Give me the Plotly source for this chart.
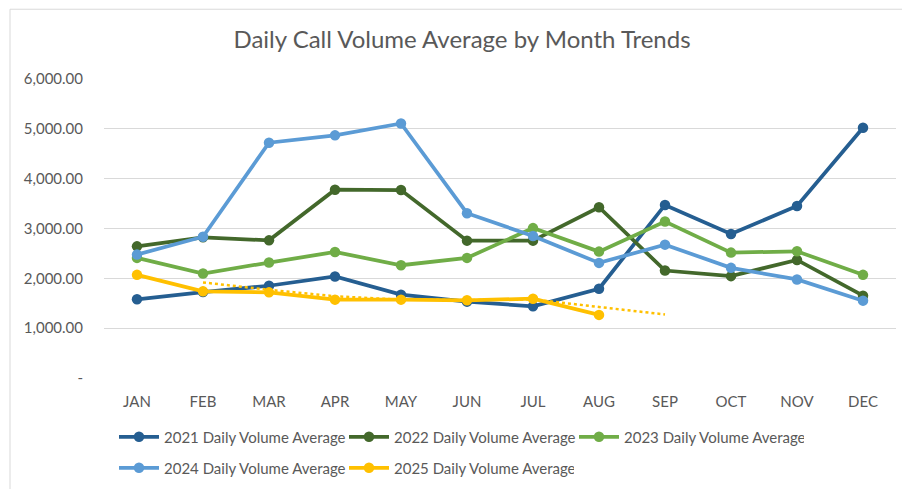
import plotly.graph_objects as go

months = ["JAN", "FEB", "MAR", "APR", "MAY", "JUN", "JUL", "AUG", "SEP", "OCT", "NOV", "DEC"]
y2021 = [1579, 1725, 1851, 2038, 1672, 1532, 1439, 1791, 3473, 2888, 3453, 5021]
y2022 = [2642, 2822, 2762, 3779, 3772, 2756, 2756, 3426, 2157, 2044, 2369, 1652]
y2023 = [2410, 2097, 2317, 2529, 2263, 2410, 3008, 2536, 3140, 2516, 2542, 2070]
y2024 = [2476, 2835, 4722, 4869, 5108, 3307, 2848, 2310, 2676, 2210, 1978, 1552]
y2025 = [2070, 1739, 1719, 1572, 1572, 1559, 1592, 1266]
trend_months = ["FEB", "MAR", "APR", "MAY", "JUN", "JUL", "AUG", "SEP"]
trend2025 = [1918, 1770, 1640, 1572, 1565, 1578, 1425, 1275]
ytick_vals = [0, 1000, 2000, 3000, 4000, 5000, 6000]
ytick_text = ["-", "1,000.00", "2,000.00", "3,000.00", "4,000.00", "5,000.00", "6,000.00"]

series = [
    ("2021 Daily Volume Average", y2021, "#255E91", "legend"),
    ("2022 Daily Volume Average", y2022, "#43682B", "legend"),
    ("2023 Daily Volume Average", y2023, "#70AD47", "legend"),
    ("2024 Daily Volume Average", y2024, "#5B9BD5", "legend2"),
    ("2025 Daily Volume Average", y2025, "#FFC000", "legend2"),
]

W, H = 902, 489
ML, MR, MT, MB = 104, 6, 79, 110
PW, PH = W - ML - MR, H - MT - MB

def px_x(p):
    return (p - ML) / PW

def px_y(p):
    return (H - MB - p) / PH

FONT = "Lato"
GREY = "#595959"

fig = go.Figure()
for name, vals, color, lg in series:
    fig.add_trace(go.Scatter(
        x=months[:len(vals)], y=vals, name=name, mode="lines+markers",
        line=dict(color=color, width=3.75),
        marker=dict(color=color, size=10.5),
        legend=lg,
    ))
fig.add_trace(go.Scatter(
    x=trend_months, y=trend2025, mode="lines", showlegend=False,
    line=dict(color="#FFC000", width=2.5, dash="dot"), hoverinfo="skip",
))

leg_common = dict(orientation="h", xanchor="left", yanchor="middle",
                  font=dict(size=15, color=GREY), itemwidth=40, entrywidth=175,
                  bgcolor="rgba(0,0,0,0)")

fig.update_layout(
    width=W, height=H,
    margin=dict(l=ML, r=MR, t=MT, b=MB),
    paper_bgcolor="white", plot_bgcolor="white",
    font=dict(family=FONT, color=GREY, size=15),
    title=dict(text="Daily Call Volume Average by Month Trends", x=px_x(462), xref="paper",
               xanchor="center", y=1 - 40 / H, yanchor="middle",
               font=dict(size=24, color=GREY, family=FONT)),
    xaxis=dict(type="category", categoryorder="array", categoryarray=months,
               range=[-0.5, 11.5], showgrid=False, showline=False, zeroline=False,
               ticks="", tickfont=dict(size=15, color=GREY), ticklabelstandoff=13),
    yaxis=dict(range=[0, 6000], tickvals=ytick_vals, ticktext=ytick_text,
               showgrid=True, gridcolor="#d9d9d9", gridwidth=1, zeroline=False,
               showline=False, ticks="", tickfont=dict(size=15, color=GREY),
               ticklabelstandoff=20),
    legend=dict(x=px_x(114), y=px_y(437), **leg_common),
    legend2=dict(x=px_x(114), y=px_y(468), **leg_common),
    shapes=[
        dict(type="line", xref="paper", yref="paper", x0=px_x(10), x1=px_x(W + 5),
             y0=px_y(9), y1=px_y(9), line=dict(color="#d9d9d9", width=1)),
        dict(type="line", xref="paper", yref="paper", x0=px_x(10), x1=px_x(10),
             y0=px_y(9), y1=px_y(H + 5), line=dict(color="#d9d9d9", width=1)),
    ],
    showlegend=True,
)

fig.write_html("out.html", config={"displayModeBar": False},
               post_script="document.body.style.margin='0';document.body.style.overflow='hidden';")
